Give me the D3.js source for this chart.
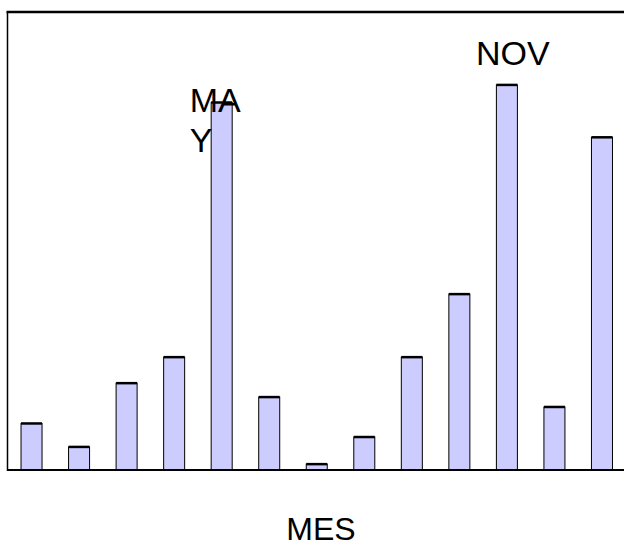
<!DOCTYPE html>
<html><head><meta charset="utf-8">
<script src="https://cdn.jsdelivr.net/npm/d3@7"></script>
<style>body{margin:0;background:#fff}svg{display:block}</style>
</head><body>
<script>
const categories = ["ENE","FEB","MAR","ABR","MAY","JUN","JUL","AGO","SEP","OCT","NOV","DIC","TOT"];
const values = [12.7, 6.3, 23.7, 30.8, 100.3, 19.9, 1.6, 9.0, 30.8, 48.0, 105.1, 17.2, 90.8];
const labelled = ["MAY", "NOV"];
const xTitle = "MES";

const W = 624, H = 547;
const svg = d3.select("body").append("svg").attr("width", W).attr("height", H);
const x = d3.scaleBand().domain(categories).range([8, 625.5]).paddingInner(0.558).paddingOuter(0.274);
const y = d3.scaleLinear().domain([0, 125]).range([470, 12]);
const font = "Liberation Sans, Arial, sans-serif";

// frame
svg.append("line").attr("x1", 7.5).attr("x2", 7.5).attr("y1", 12).attr("y2", 471).attr("stroke", "#000").attr("stroke-width", 1.5);
svg.append("line").attr("x1", 6.5).attr("x2", W).attr("y1", 12).attr("y2", 12).attr("stroke", "#000").attr("stroke-width", 2.5);

const g = svg.append("g");
categories.forEach((c, i) => {
  const x0 = x(c), bw = x.bandwidth(), yt = y(values[i]);
  g.append("rect").attr("x", x0).attr("y", yt).attr("width", bw).attr("height", y(0) - yt)
    .attr("fill", "#ccccff").attr("stroke", "#000").attr("stroke-width", 1);
  g.append("line").attr("x1", x0).attr("x2", x0 + bw).attr("y1", yt).attr("y2", yt)
    .attr("stroke", "#000").attr("stroke-width", 2.5);
});

svg.append("line").attr("x1", 7).attr("x2", W).attr("y1", 470).attr("y2", 470).attr("stroke", "#000").attr("stroke-width", 2);

// labels
const lab = svg.append("g").attr("font-family", font).attr("font-size", 34).attr("fill", "#000");
lab.append("text").attr("x", x("MAY") - 21.5).attr("y", 112).text("MA");
lab.append("text").attr("x", x("MAY") - 21.5).attr("y", 152).text("Y");
lab.append("text").attr("x", x("NOV") - 20.5).attr("y", 65).text("NOV");

svg.append("text").attr("x", 321).attr("y", 540).attr("text-anchor", "middle")
  .attr("font-family", font).attr("font-size", 32).text(xTitle);
</script>
</body></html>
